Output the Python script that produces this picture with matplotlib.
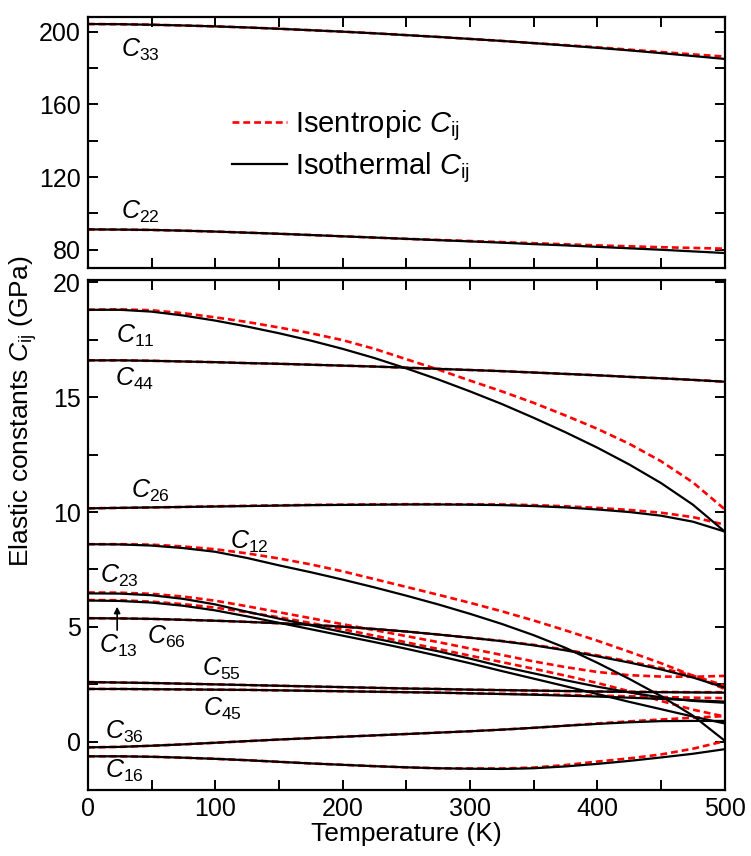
import matplotlib
matplotlib.use('Agg')
import matplotlib.pyplot as plt
from matplotlib.ticker import MultipleLocator

plt.rcParams['font.family'] = ['Liberation Sans', 'DejaVu Sans']
plt.rcParams['mathtext.fontset'] = 'custom'
plt.rcParams['mathtext.rm'] = 'Liberation Sans'
plt.rcParams['mathtext.it'] = 'Liberation Sans:italic'

# temperature grid (K)
T = [0, 25, 50, 75, 100, 125, 150, 175, 200, 225, 250, 275, 300, 325, 350, 375, 400, 425, 450, 475, 500]

# top panel (GPa)
c33_iso = [204.2, 204.1, 203.8, 203.4, 202.9, 202.3, 201.6, 200.8, 200.0, 199.1, 198.1,
           197.1, 196.0, 194.9, 193.7, 192.4, 191.1, 189.7, 188.2, 186.6, 185.0]
c33_isen = [204.2, 204.1, 203.8, 203.4, 202.9, 202.3, 201.6, 200.8, 200.0, 199.1, 198.1,
            197.1, 196.0, 194.9, 193.7, 192.6, 191.4, 190.1, 188.8, 187.5, 186.3]
c22_iso = [91.2, 91.1, 90.9, 90.5, 90.0, 89.4, 88.8, 88.1, 87.4, 86.7, 86.0,
           85.3, 84.6, 83.9, 83.1, 82.4, 81.6, 80.8, 80.0, 79.1, 78.2]
c22_isen = [91.2, 91.1, 90.9, 90.5, 90.0, 89.4, 88.8, 88.1, 87.4, 86.7, 86.0,
            85.4, 84.8, 84.2, 83.6, 83.0, 82.4, 81.9, 81.4, 81.0, 80.6]

# bottom panel (GPa)
c11_iso = [18.8, 18.8, 18.72, 18.55, 18.33, 18.07, 17.78, 17.46, 17.1, 16.7, 16.25,
           15.77, 15.25, 14.7, 14.1, 13.47, 12.8, 12.07, 11.26, 10.32, 9.15]
c11_isen = [18.8, 18.82, 18.78, 18.65, 18.47, 18.27, 18.03, 17.78, 17.48, 17.1, 16.65,
            16.2, 15.72, 15.25, 14.75, 14.2, 13.62, 12.97, 12.21, 11.29, 10.12]
c44_iso = [16.6, 16.6, 16.58, 16.55, 16.52, 16.48, 16.45, 16.41, 16.37, 16.33, 16.28,
           16.23, 16.18, 16.13, 16.07, 16.01, 15.95, 15.88, 15.82, 15.75, 15.67]
c44_isen = c44_iso
c26_iso = [10.16, 10.18, 10.2, 10.22, 10.24, 10.26, 10.28, 10.3, 10.31, 10.32, 10.33,
           10.33, 10.32, 10.3, 10.26, 10.2, 10.11, 10.0, 9.84, 9.58, 9.15]
c26_isen = [10.16, 10.18, 10.2, 10.22, 10.25, 10.27, 10.29, 10.31, 10.32, 10.33, 10.34,
            10.34, 10.33, 10.33, 10.3, 10.25, 10.18, 10.09, 9.97, 9.78, 9.45]
c12_iso = [8.6, 8.59, 8.54, 8.43, 8.27, 8.0, 7.68, 7.38, 7.06, 6.72, 6.36,
           5.98, 5.57, 5.13, 4.64, 4.09, 3.44, 2.74, 1.99, 1.14, 0.05]
c12_isen = [8.6, 8.6, 8.58, 8.5, 8.38, 8.2, 7.98, 7.72, 7.42, 7.08, 6.74,
            6.4, 6.05, 5.68, 5.28, 4.85, 4.4, 3.92, 3.42, 2.88, 2.3]
c23_iso = [6.46, 6.45, 6.38, 6.22, 5.98, 5.66, 5.36, 5.07, 4.78, 4.5, 4.22,
           3.94, 3.62, 3.28, 2.98, 2.68, 2.4, 2.15, 1.93, 1.78, 1.7]
c23_isen = [6.5, 6.49, 6.44, 6.32, 6.14, 5.9, 5.64, 5.38, 5.12, 4.86, 4.6,
            4.34, 4.06, 3.78, 3.5, 3.25, 3.04, 2.9, 2.84, 2.83, 2.87]
c13_iso = [6.15, 6.13, 6.06, 5.92, 5.72, 5.46, 5.18, 4.9, 4.62, 4.34, 4.05,
           3.74, 3.42, 3.08, 2.75, 2.42, 2.08, 1.74, 1.42, 1.1, 0.8]
c13_isen = [6.17, 6.16, 6.1, 5.99, 5.84, 5.64, 5.42, 5.17, 4.9, 4.62, 4.33,
            4.04, 3.75, 3.47, 3.18, 2.88, 2.56, 2.2, 1.78, 1.4, 1.1]
c66_iso = [5.38, 5.37, 5.35, 5.31, 5.27, 5.22, 5.16, 5.09, 5.01, 4.91, 4.8,
           4.67, 4.53, 4.38, 4.2, 3.98, 3.72, 3.45, 3.15, 2.8, 2.36]
c66_isen = [5.38, 5.37, 5.35, 5.31, 5.27, 5.22, 5.16, 5.09, 5.01, 4.91, 4.8,
            4.67, 4.53, 4.39, 4.22, 4.01, 3.76, 3.5, 3.21, 2.88, 2.45]
c55_iso = [2.6, 2.58, 2.56, 2.53, 2.5, 2.47, 2.44, 2.41, 2.38, 2.35, 2.32,
           2.3, 2.27, 2.25, 2.23, 2.21, 2.19, 2.17, 2.16, 2.15, 2.14]
c55_isen = [2.6, 2.58, 2.56, 2.53, 2.5, 2.47, 2.44, 2.41, 2.38, 2.35, 2.32,
            2.3, 2.27, 2.25, 2.23, 2.21, 2.19, 2.18, 2.17, 2.16, 2.16]
c45_iso = [2.3, 2.3, 2.29, 2.28, 2.27, 2.26, 2.24, 2.22, 2.2, 2.18, 2.16,
           2.14, 2.11, 2.08, 2.05, 2.01, 1.97, 1.92, 1.87, 1.81, 1.75]
c45_isen = [2.3, 2.3, 2.29, 2.28, 2.27, 2.26, 2.24, 2.22, 2.2, 2.18, 2.16,
            2.14, 2.11, 2.09, 2.07, 2.04, 2.01, 1.98, 1.95, 1.92, 1.9]
c36_iso = [-0.24, -0.22, -0.17, -0.11, -0.04, 0.03, 0.1, 0.16, 0.22, 0.28, 0.34,
           0.4, 0.46, 0.53, 0.61, 0.7, 0.78, 0.85, 0.9, 0.91, 0.91]
c36_isen = [-0.24, -0.22, -0.17, -0.11, -0.04, 0.03, 0.1, 0.16, 0.22, 0.28, 0.34,
            0.4, 0.46, 0.53, 0.61, 0.7, 0.8, 0.89, 0.97, 1.05, 1.12]
c16_iso = [-0.63, -0.63, -0.65, -0.69, -0.74, -0.8, -0.87, -0.94, -1.0, -1.06, -1.11,
           -1.15, -1.17, -1.18, -1.15, -1.07, -0.96, -0.83, -0.68, -0.52, -0.32]
c16_isen = [-0.63, -0.63, -0.65, -0.69, -0.74, -0.8, -0.87, -0.94, -1.0, -1.06, -1.11,
            -1.15, -1.16, -1.16, -1.12, -1.01, -0.86, -0.72, -0.55, -0.3, 0.03]

top_pairs = [(c33_isen, c33_iso), (c22_isen, c22_iso)]
bottom_pairs = [(c11_isen, c11_iso), (c44_isen, c44_iso), (c26_isen, c26_iso),
                (c12_isen, c12_iso), (c23_isen, c23_iso), (c13_isen, c13_iso),
                (c66_isen, c66_iso), (c55_isen, c55_iso), (c45_isen, c45_iso),
                (c36_isen, c36_iso), (c16_isen, c16_iso)]

# label text and (T, value) anchors
top_labels = [('33', 41, 190), ('22', 41, 101)]
bottom_labels = [('11', 37, 17.65), ('44', 37, 15.8), ('26', 49, 10.9), ('12', 127, 8.7),
                 ('23', 25, 7.2), ('13', 24, 4.17), ('66', 62, 4.55), ('55', 105, 3.17),
                 ('45', 106, 1.45), ('36', 29, 0.42), ('16', 29, -1.28)]

fig = plt.figure(figsize=(7.51, 8.56), dpi=100)
ax1 = fig.add_axes([0.117, 0.687, 0.848, 0.293])
ax2 = fig.add_axes([0.117, 0.077, 0.848, 0.596])

dash = (0, (2.6, 1.5))
for isen, iso in top_pairs:
    ax1.plot(T, isen, color='red', lw=1.9, linestyle=dash, zorder=2)
    ax1.plot(T, iso, color='black', lw=1.6, zorder=3)
for isen, iso in bottom_pairs:
    ax2.plot(T, isen, color='red', lw=1.9, linestyle=dash, zorder=2)
    ax2.plot(T, iso, color='black', lw=1.6, zorder=3)

# legend handles
ax1.plot([], [], color='red', lw=1.9, linestyle=dash, label=r'Isentropic $C_{\mathrm{ij}}$')
ax1.plot([], [], color='black', lw=1.6, label=r'Isothermal $C_{\mathrm{ij}}$')
ax1.legend(loc='center left', bbox_to_anchor=(0.226, 0.485), frameon=False, fontsize=21,
           handlelength=1.9, handletextpad=0.25, labelspacing=0.25, borderpad=0,
           borderaxespad=0)

for lab, tx, ty in top_labels:
    ax1.text(tx, ty, rf'$C_{{{lab}}}$', fontsize=18, ha='center', va='center')
for lab, tx, ty in bottom_labels:
    ax2.text(tx, ty, rf'$C_{{{lab}}}$', fontsize=18, ha='center', va='center')
ax2.annotate('', xy=(23, 6.0), xytext=(23, 4.74),
             arrowprops=dict(arrowstyle='-|>', color='black', lw=1.2, mutation_scale=9))

ax1.set_xlim(0, 500)
ax2.set_xlim(0, 500)
ax1.set_ylim(70, 208)
ax2.set_ylim(-2.1, 20.1)

ax1.xaxis.set_major_locator(MultipleLocator(100))
ax1.xaxis.set_minor_locator(MultipleLocator(50))
ax1.yaxis.set_major_locator(MultipleLocator(40))
ax1.yaxis.set_minor_locator(MultipleLocator(20))
ax1.set_yticks([80, 120, 160, 200])
ax1.tick_params(labelbottom=False)
ax2.xaxis.set_major_locator(MultipleLocator(100))
ax2.xaxis.set_minor_locator(MultipleLocator(50))
ax2.yaxis.set_major_locator(MultipleLocator(5))
ax2.yaxis.set_minor_locator(MultipleLocator(2.5))

for ax in (ax1, ax2):
    ax.tick_params(which='both', direction='in', top=True, right=True, length=7, width=1.4,
                   labelsize=18, pad=5)
    for s in ax.spines.values():
        s.set_linewidth(1.6)

ax2.set_xlabel('Temperature (K)', fontsize=19, labelpad=1)
fig.text(0.031, 0.519, r'Elastic constants $C_{\mathrm{ij}}$ (GPa)', rotation=90,
         fontsize=19, ha='center', va='center')

fig.savefig('out.png', dpi=100)
